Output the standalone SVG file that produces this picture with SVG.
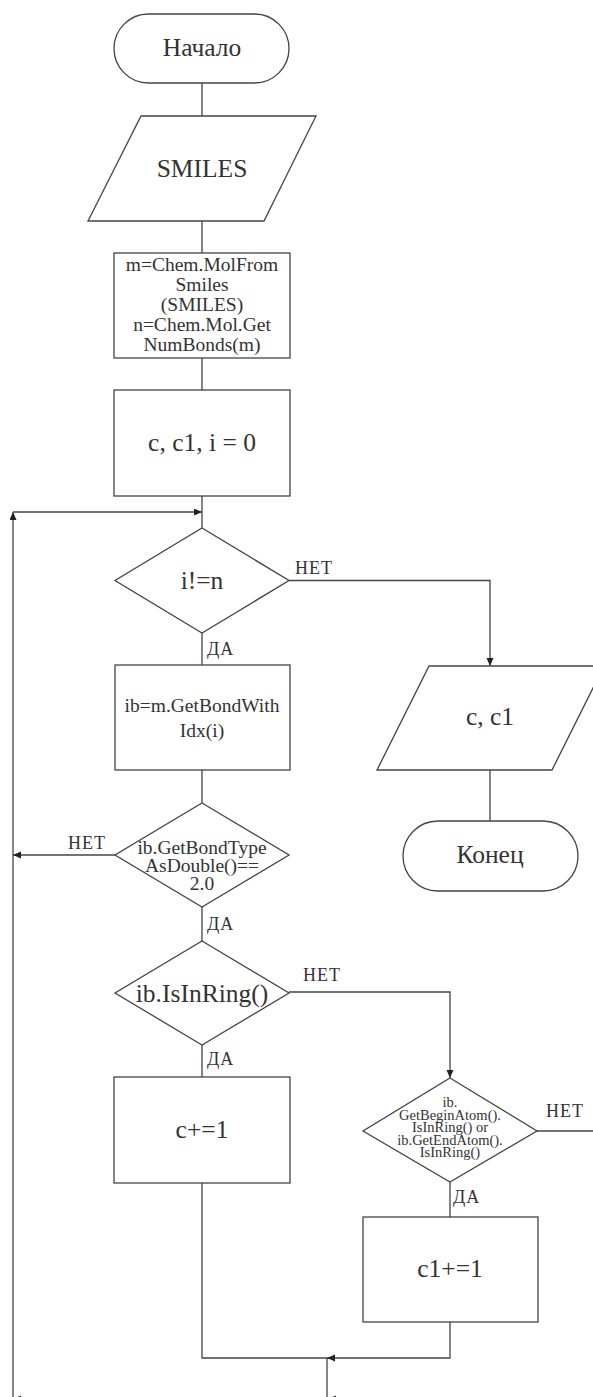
<svg xmlns="http://www.w3.org/2000/svg" width="593" height="1397" viewBox="0 0 593 1397">
<defs>
<style>
.sh{fill:#ffffff;stroke:#444444;stroke-width:1.3}
.ln{fill:none;stroke:#444444;stroke-width:1.3}
.t{font-family:"Liberation Serif","Times New Roman",serif;fill:#333333;text-anchor:middle}
.big{font-size:25.5px}
.mid{font-size:19.5px}
.sm{font-size:14.5px}
.lbl{font-family:"Liberation Serif","Times New Roman",serif;fill:#333333;font-size:18px;letter-spacing:1px}
</style>
<marker id="ar" markerUnits="userSpaceOnUse" markerWidth="10" markerHeight="8" refX="8" refY="3.5" orient="auto">
<path d="M0,0 L8,3.5 L0,7 z" fill="#222222"/>
</marker>
</defs>
<rect width="593" height="1397" fill="#ffffff"/>

<g id="connectors">
<path class="ln" d="M202 83 V116"/>
<path class="ln" d="M202 221 V253"/>
<path class="ln" d="M202 358 V390"/>
<path class="ln" d="M202 496 V528"/>
<path class="ln" d="M13 1399 V512" marker-end="url(#ar)"/>
<path class="ln" d="M13 512 H202" marker-end="url(#ar)"/>
<path class="ln" d="M289 580.5 H490 V666" marker-end="url(#ar)"/>
<path class="ln" d="M202 633 V665"/>
<path class="ln" d="M490 770 V821"/>
<path class="ln" d="M202 770 V803"/>
<path class="ln" d="M115 855 H13" marker-end="url(#ar)"/>
<path class="ln" d="M202 907 V941"/>
<path class="ln" d="M289 992 H450 V1078" marker-end="url(#ar)"/>
<path class="ln" d="M202 1045 V1077"/>
<path class="ln" d="M450 1182 V1217"/>
<path class="ln" d="M537 1131 H593"/>
<path class="ln" d="M202 1183 V1358 H327"/>
<path class="ln" d="M450 1322 V1358 H327" marker-end="url(#ar)"/>
<path class="ln" d="M327 1358 V1399 H13" marker-end="url(#ar)"/>
<path class="ln" d="M340 1399 H328" marker-end="url(#ar)"/>
<text class="lbl" x="295" y="574">НЕТ</text>
<text class="lbl" x="207" y="655">ДА</text>
<text class="lbl" x="68" y="849">НЕТ</text>
<text class="lbl" x="207" y="930">ДА</text>
<text class="lbl" x="303" y="981">НЕТ</text>
<text class="lbl" x="207" y="1065">ДА</text>
<text class="lbl" x="546" y="1117">НЕТ</text>
<text class="lbl" x="453" y="1203">ДА</text>
</g>

<g id="start">
<rect class="sh" x="114" y="14" width="175" height="69" rx="34.5" ry="34.5"/>
<text class="t big" x="202" y="56">Начало</text>
</g>

<g id="input">
<polygon class="sh" points="141,116 316,116 264,221 88,221"/>
<text class="t big" x="202" y="177">SMILES</text>
</g>

<g id="mol">
<rect class="sh" x="114" y="253" width="176" height="105"/>
<text class="t mid" x="202" y="271">m=Chem.MolFrom</text>
<text class="t mid" x="202" y="291">Smiles</text>
<text class="t mid" x="202" y="311">(SMILES)</text>
<text class="t mid" x="202" y="331">n=Chem.Mol.Get</text>
<text class="t mid" x="202" y="351">NumBonds(m)</text>
</g>

<g id="init">
<rect class="sh" x="114" y="390" width="176" height="106"/>
<text class="t big" x="202" y="451">c, c1, i = 0</text>
</g>

<g id="cond1">
<polygon class="sh" points="202,528 289,580.5 202,633 115,580.5"/>
<text class="t big" x="202" y="589">i!=n</text>
</g>

<g id="getbond">
<rect class="sh" x="115" y="665" width="175" height="105"/>
<text class="t mid" x="202" y="712">ib=m.GetBondWith</text>
<text class="t mid" x="202" y="737">Idx(i)</text>
</g>

<g id="output">
<polygon class="sh" points="429,666 604,666 552,770 377,770"/>
<text class="t big" x="490" y="725">c, c1</text>
</g>

<g id="end">
<rect class="sh" x="403" y="821" width="175" height="70" rx="35" ry="35"/>
<text class="t big" x="490" y="863">Конец</text>
</g>

<g id="cond2">
<polygon class="sh" points="202,803 289,855 202,907 115,855"/>
<text class="t mid" x="202" y="854">ib.GetBondType</text>
<text class="t mid" x="202" y="872">AsDouble()==</text>
<text class="t mid" x="202" y="890">2.0</text>
</g>

<g id="cond3">
<polygon class="sh" points="202,941 289,993 202,1045 115,993"/>
<text class="t big" x="202" y="1002">ib.IsInRing()</text>
</g>

<g id="inc_c">
<rect class="sh" x="114" y="1077" width="176" height="106"/>
<text class="t big" x="202" y="1138">c+=1</text>
</g>

<g id="cond4">
<polygon class="sh" points="450,1078 537,1131 450,1182 363,1131"/>
<text class="t sm" x="450" y="1107">ib.</text>
<text class="t sm" x="450" y="1119.5">GetBeginAtom().</text>
<text class="t sm" x="450" y="1132">IsInRing() or</text>
<text class="t sm" x="450" y="1144.5">ib.GetEndAtom().</text>
<text class="t sm" x="450" y="1157">IsInRing()</text>
</g>

<g id="inc_c1">
<rect class="sh" x="363" y="1217" width="175" height="105"/>
<text class="t big" x="450" y="1277">c1+=1</text>
</g>
</svg>
